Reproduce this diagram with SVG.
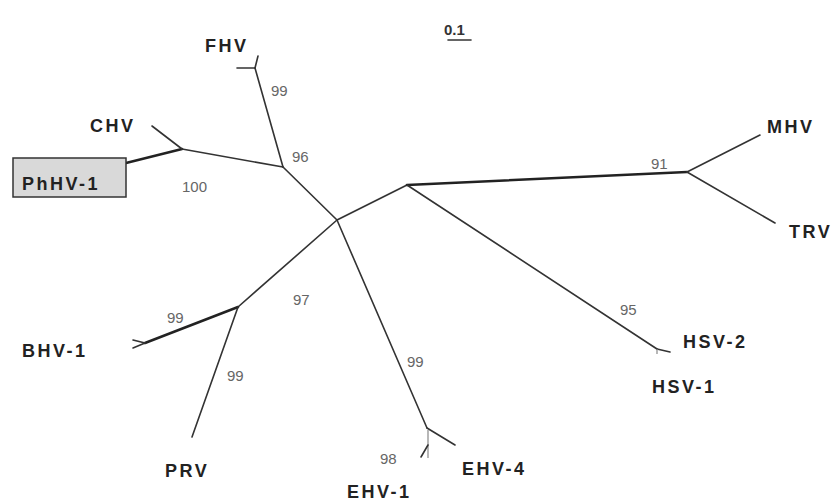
<svg xmlns="http://www.w3.org/2000/svg" width="835" height="503" viewBox="0 0 835 503">
<style>
.lbl{font-family:"Liberation Sans",Arial,sans-serif;font-weight:bold;font-size:18px;fill:#222;letter-spacing:2.5px}
.bs{font-family:"Liberation Sans",Arial,sans-serif;font-size:15px;fill:#666}
.br{stroke:#333;stroke-width:1.6;fill:none;stroke-linecap:round}
.tk{stroke:#222;stroke-width:2.6;fill:none;stroke-linecap:round}
.lt{stroke:#888;stroke-width:1.2;fill:none}
</style>
<rect width="835" height="503" fill="#fff"/>
<g id="connectors">
<path class="br" d="M283,167 L337,220"/>
<path class="tk" d="M126,163 L182,149"/>
<path class="br" d="M182,149 L283,167"/>
<path class="br" d="M182,149 L152,126"/>
<path class="br" d="M283,167 L255,68"/>
<path class="br" d="M255,68 L237,68"/>
<path class="br" d="M255,68 L258,56"/>
<path class="br" d="M337,220 L407,185"/>
<path class="tk" d="M407,185 L687,172"/>
<path class="br" d="M687,172 L760,135"/>
<path class="br" d="M687,172 L775,223"/>
<path class="br" d="M407,185 L657,349"/>
<path class="br" d="M657,349 L670,352"/>
<path class="lt" d="M657,349 L657,354"/>
<path class="br" d="M337,220 L238,307"/>
<path class="tk" d="M238,307 L145,343"/>
<path class="br" d="M145,343 L133,340"/>
<path class="br" d="M145,343 L133,348"/>
<path class="br" d="M238,307 L192,437"/>
<path class="br" d="M337,220 L427,428"/>
<path class="br" d="M427,428 L455,445"/>
<path class="lt" d="M428,430 L428,458"/>
<path class="br" d="M428,445 L421,457"/>
<path class="br" d="M448,40 L471,40"/>
</g>
<g id="scale"><text class="bs" x="444" y="35" style="font-weight:bold;fill:#333">0.1</text></g>
<g id="FHV"><text class="lbl" x="205" y="52">FHV</text></g>
<g id="CHV"><text class="lbl" x="90" y="132">CHV</text></g>
<g id="PhHV-1"><rect x="13" y="158" width="113" height="39" fill="#d9d9d9" stroke="#333" stroke-width="1.5"/><text class="lbl" x="22" y="190">PhHV-1</text></g>
<g id="MHV"><text class="lbl" x="767" y="133">MHV</text></g>
<g id="TRV"><text class="lbl" x="789" y="238">TRV</text></g>
<g id="HSV-2"><text class="lbl" x="683" y="348">HSV-2</text></g>
<g id="HSV-1"><text class="lbl" x="652" y="393">HSV-1</text></g>
<g id="BHV-1"><text class="lbl" x="22" y="357">BHV-1</text></g>
<g id="PRV"><text class="lbl" x="165" y="477">PRV</text></g>
<g id="EHV-4"><text class="lbl" x="462" y="475">EHV-4</text></g>
<g id="EHV-1"><text class="lbl" x="347" y="498">EHV-1</text></g>
<g id="bootstrap">
<text class="bs" x="271" y="96">99</text>
<text class="bs" x="292" y="162">96</text>
<text class="bs" x="182" y="192">100</text>
<text class="bs" x="651" y="169">91</text>
<text class="bs" x="620" y="315">95</text>
<text class="bs" x="293" y="305">97</text>
<text class="bs" x="167" y="323">99</text>
<text class="bs" x="227" y="381">99</text>
<text class="bs" x="407" y="367">99</text>
<text class="bs" x="380" y="464">98</text>
</g>
</svg>
